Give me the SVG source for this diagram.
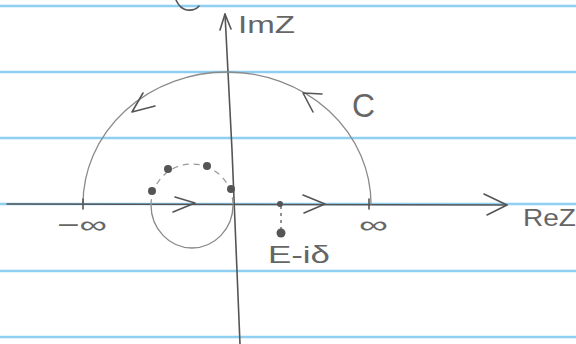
<svg xmlns="http://www.w3.org/2000/svg" width="576" height="344" viewBox="0 0 576 344">
<style>
.rule{stroke:#8fd0f2;stroke-width:2.5;fill:none}
.ink{stroke:#555;stroke-width:1.6;fill:none;stroke-linecap:round;stroke-linejoin:round}
.thin{stroke:#8a8a8a;stroke-width:1.3;fill:none;stroke-linecap:round}
.dash{stroke:#999;stroke-width:1.3;fill:none;stroke-dasharray:6 5}
.dot{fill:#555}
.lbl{font-family:"Liberation Sans",Arial,sans-serif;fill:#666;font-size:24px}
</style>
<rect width="576" height="344" fill="#fff"/>
<g id="paper">
<line class="rule" x1="0" y1="6" x2="576" y2="6"/>
<line class="rule" x1="0" y1="72" x2="576" y2="72"/>
<line class="rule" x1="0" y1="138" x2="576" y2="138"/>
<line class="rule" x1="0" y1="204" x2="576" y2="204"/>
<line class="rule" x1="0" y1="271" x2="576" y2="271"/>
<line class="rule" x1="0" y1="337" x2="576" y2="337"/>
</g>
<g id="scrap"><path class="ink" d="M176 0 Q180 9 187 10 Q195 11 199 6"/></g>
<g id="connectors">
<path id="imaxis" class="ink" d="M225 14 L232 150 L240 344"/>
<path class="ink" d="M220 30 L225 14 L231 29"/>
<path id="reaxis" class="ink" d="M7 204 L507 205"/>
<path class="ink" d="M484 194 L507 205 L487 215"/>
<path id="bigarc" class="thin" d="M83 204 A144 132 0 0 1 371 204"/>
<path class="ink" d="M143 93 L132 112 L155 106"/>
<path class="ink" d="M322 94 L303 93 L313 112"/>
<path id="loopLow" class="thin" d="M151 205 A41 43 0 0 0 233 205"/>
<path id="loopHigh" class="dash" d="M151 205 A41 41 0 0 1 233 205"/>
<path class="ink" d="M175 197 L195 203 L173 212"/>
<path class="ink" d="M303 195 L325 204 L304 213"/>
<line x1="281" y1="206" x2="281" y2="229" stroke="#666" stroke-width="1.4" stroke-dasharray="3 4"/>
<line class="ink" x1="83" y1="199" x2="83" y2="209"/>
<line class="ink" x1="369" y1="199" x2="369" y2="209"/>
</g>
<g id="points">
<circle class="dot" cx="152" cy="191" r="4"/>
<circle class="dot" cx="168" cy="169" r="4"/>
<circle class="dot" cx="207" cy="166" r="4" fill="#777"/>
<circle class="dot" cx="231" cy="189" r="4"/>
<circle class="dot" cx="280" cy="204" r="3"/>
<circle class="dot" cx="281" cy="233" r="4.5"/>
</g>
<g id="labels">
<text class="lbl" x="238" y="33" textLength="57" lengthAdjust="spacingAndGlyphs">ImZ</text>
<text class="lbl" x="352" y="117" font-size="34" style="font-size:34px" textLength="23" lengthAdjust="spacingAndGlyphs">C</text>
<text class="lbl" x="57" y="233" textLength="50" lengthAdjust="spacingAndGlyphs">−∞</text>
<text class="lbl" x="359" y="233" textLength="29" lengthAdjust="spacingAndGlyphs">∞</text>
<text class="lbl" x="523" y="226" textLength="53" lengthAdjust="spacingAndGlyphs">ReZ</text>
<text class="lbl" x="268" y="263" textLength="62" lengthAdjust="spacingAndGlyphs">E-iδ</text>
</g>
</svg>
